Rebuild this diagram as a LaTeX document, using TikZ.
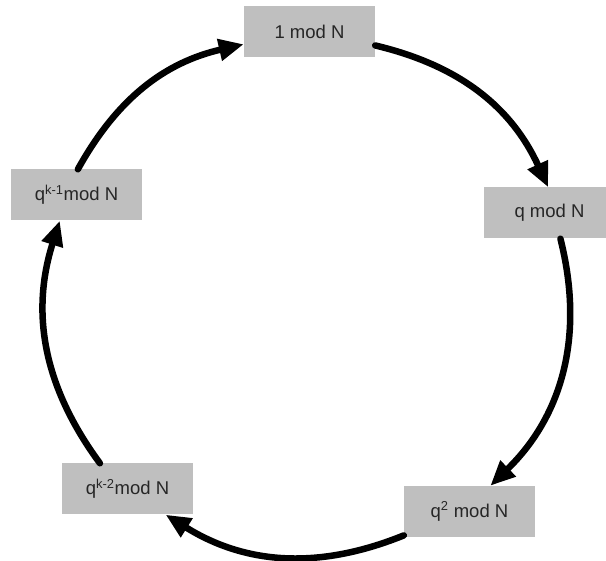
\documentclass[tikz,border=0pt]{standalone}
\usepackage{fontspec}
\setmainfont{Liberation Sans}
\usetikzlibrary{arrows.meta}
\definecolor{boxgray}{HTML}{BFBFBF}
\definecolor{txtgray}{HTML}{262626}
\begin{document}
\begin{tikzpicture}[x=1pt,y=1pt,
  box/.style={fill=boxgray, minimum width=131pt, minimum height=51pt, inner sep=0pt,
    font=\fontsize{18.5}{20}\selectfont, text=txtgray},
  arc/.style={line width=6.5pt, line cap=round, -{Triangle[length=25pt,width=21pt]}}]
\clip (0,0) rectangle (606,561);
\node[box] (one) at (309.5,529.5) {1 mod N};
\node[box] (q)   at (549.5,348) {q mod N};
\node[box] (q2)  at (469.5,49.5) {q\textsuperscript{2} mod N};
\node[box] (qk2) at (127.5,72) {q\textsuperscript{k-2}mod N};
\node[box] (qk1) at (76.5,366) {q\textsuperscript{k-1}mod N};
\draw[arc] (one.-12.5) to[bend left=26] (q.93);
\draw[arc] (q.-67) to[bend left=30] (q2.51);
\draw[arc] (q2.-160.3) to[bend left=27] (qk2.-34);
\draw[arc] (qk2.137) to[bend left=27] (qk1.-123);
\draw[arc] (qk1.87) to[bend left=24] (one.191.6);
\end{tikzpicture}
\end{document}
